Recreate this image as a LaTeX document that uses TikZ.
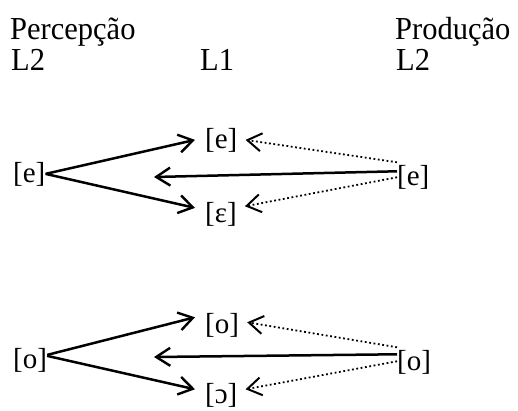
\documentclass[tikz,border=0pt]{standalone}
\usepackage{fontspec}
\setmainfont{Liberation Serif}
\usetikzlibrary{arrows.meta}
% headings are set slightly taller than the plain face
\newcommand\tallword[1]{\scalebox{1}[1.05]{#1}}
\begin{document}
\begin{tikzpicture}[x=1pt,y=-1pt,
  heading/.style={anchor=base west, inner sep=0pt, font=\fontsize{30.5}{30.5}\selectfont},
  sound/.style={anchor=base west, inner sep=0pt, font=\fontsize{29}{29}\selectfont},
  link/.style={line width=2.5pt, -{Straight Barb[length=14pt,width=18pt,line width=2.4pt]}},
  echo/.style={line width=1.8pt, dash pattern=on 1.8pt off 2.6pt,
    -{Straight Barb[length=14pt,width=18pt,line width=2pt]}}]
\useasboundingbox (0,0) rectangle (518,410);

% column headings
\node[heading] (perc) at (10,39) {\tallword{Percepção}};
\node[heading] (prod) at (395,39) {\tallword{Produção}};
\node[heading] (l2a) at (11,70) {\tallword{L2}};
\node[heading] (l1) at (200,70) {\tallword{L1}};
\node[heading] (l2b) at (396,70) {\tallword{L2}};

% front vowels
\node[sound] (e0) at (13,182) {[e]};
\node[sound] (e1) at (205,148) {[e]};
\node[sound] (e2) at (205,222) {[ɛ]};
\node[sound] (e3) at (397,185) {[e]};
\coordinate (r1) at (154,177);

\draw[link] (e0.east) -- ([xshift=-10pt]e1.west);
\draw[link] (e0.east) -- ([xshift=-10pt,yshift=6pt]e2.west);
\draw[link] ([yshift=5.6pt]e3.west) -- (r1);
\draw[echo] ([yshift=14.6pt]e3.west) -- ([xshift=8pt]e1.east);
\draw[echo] ([yshift=-0.4pt]e3.west) -- ([xshift=8pt,yshift=7.6pt]e2.east);

% back vowels
\node[sound] (o0) at (13,368) {[o]};
\node[sound] (o1) at (205,333) {[o]};
\node[sound] (o2) at (205,403) {[ɔ]};
\node[sound] (o3) at (397,370) {[o]};
\coordinate (r2) at (154,357);

\draw[link] ([yshift=5pt]o0.east) -- ([xshift=-10pt,yshift=7.6pt]o1.west);
\draw[link] ([yshift=4pt]o0.east) -- ([xshift=-10pt,yshift=5.6pt]o2.west);
\draw[link] ([yshift=7.6pt]o3.west) -- (r2);
\draw[echo] ([yshift=14.6pt]o3.west) -- ([xshift=8pt,yshift=2.6pt]o1.east);
\draw[echo] ([yshift=0.6pt]o3.west) -- ([xshift=8pt,yshift=5.6pt]o2.east);
\end{tikzpicture}
\end{document}
